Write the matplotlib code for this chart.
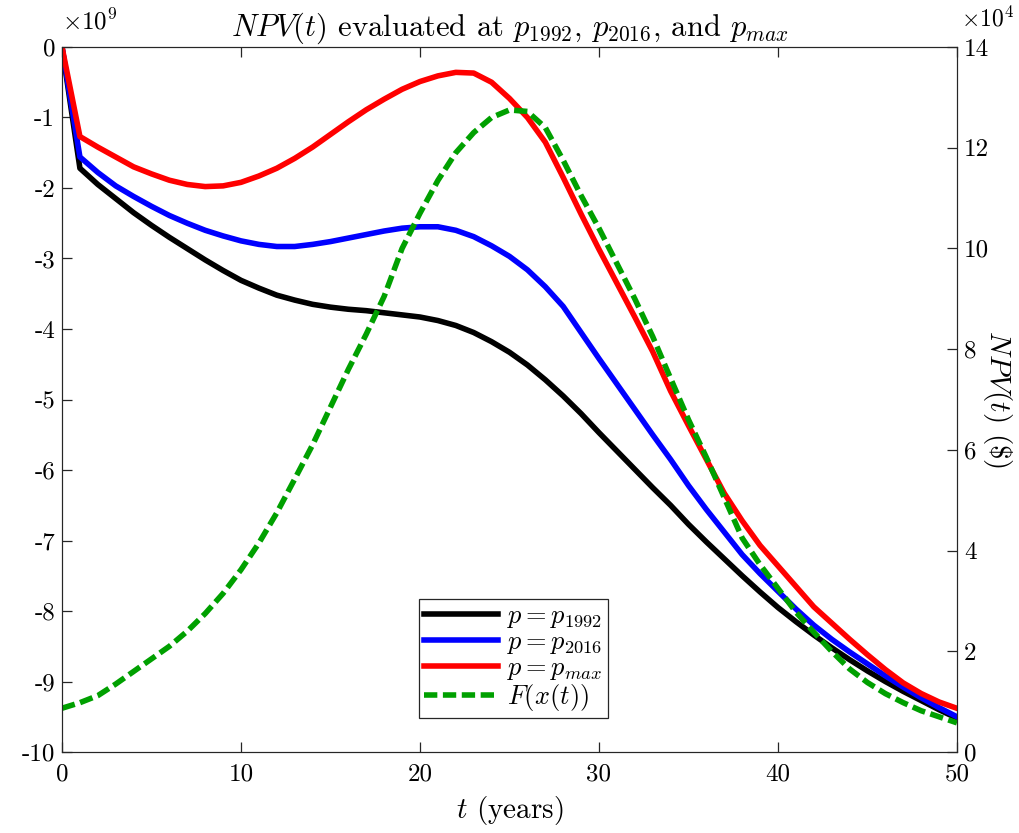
import matplotlib
matplotlib.use('Agg')
import matplotlib.pyplot as plt

plt.rcParams['font.family'] = 'cmr10'
plt.rcParams['mathtext.fontset'] = 'cm'
plt.rcParams['axes.unicode_minus'] = False
plt.rcParams['axes.formatter.use_mathtext'] = False

# time grid (years)
t = list(range(0, 51))

# NPV(t), units of 1e9 $
npv_1992 = [0, -1.72, -1.95, -2.15, -2.35, -2.53, -2.70, -2.86, -3.02, -3.17,
            -3.31, -3.42, -3.52, -3.59, -3.65, -3.69, -3.72, -3.74, -3.77, -3.80,
            -3.83, -3.88, -3.95, -4.05, -4.18, -4.33, -4.51, -4.72, -4.95, -5.20,
            -5.47, -5.73, -5.99, -6.25, -6.50, -6.77, -7.02, -7.26, -7.50, -7.73,
            -7.95, -8.15, -8.34, -8.52, -8.69, -8.85, -9.00, -9.14, -9.27, -9.40,
            -9.52]
npv_2016 = [0, -1.56, -1.78, -1.97, -2.12, -2.26, -2.39, -2.50, -2.60, -2.68,
            -2.75, -2.80, -2.83, -2.83, -2.80, -2.76, -2.71, -2.66, -2.61, -2.57,
            -2.55, -2.55, -2.60, -2.69, -2.82, -2.97, -3.16, -3.40, -3.68, -4.05,
            -4.42, -4.78, -5.14, -5.50, -5.85, -6.22, -6.56, -6.88, -7.20, -7.47,
            -7.72, -7.97, -8.20, -8.40, -8.58, -8.75, -8.92, -9.08, -9.23, -9.37,
            -9.50]
npv_max = [0, -1.27, -1.42, -1.56, -1.70, -1.80, -1.89, -1.95, -1.98, -1.97,
           -1.92, -1.83, -1.72, -1.58, -1.42, -1.24, -1.06, -0.89, -0.74, -0.60,
           -0.49, -0.41, -0.36, -0.37, -0.50, -0.73, -1.00, -1.35, -1.85, -2.37,
           -2.87, -3.35, -3.83, -4.32, -4.88, -5.37, -5.85, -6.33, -6.72, -7.07,
           -7.36, -7.65, -7.94, -8.17, -8.40, -8.62, -8.83, -9.02, -9.17, -9.29,
           -9.38]

# F(x(t)), units of 1e4
f_xt = [0.87, 0.98, 1.12, 1.35, 1.60, 1.85, 2.10, 2.40, 2.75, 3.15,
        3.62, 4.15, 4.75, 5.42, 6.10, 6.85, 7.60, 8.30, 9.05, 10.00,
        10.70, 11.35, 11.90, 12.30, 12.60, 12.75, 12.72, 12.40, 11.75, 11.05,
        10.40, 9.70, 9.00, 8.25, 7.42, 6.60, 5.85, 5.05, 4.25, 3.72,
        3.25, 2.78, 2.38, 2.00, 1.65, 1.38, 1.16, 0.98, 0.82, 0.70,
        0.58]

fig = plt.figure(figsize=(10.2, 8.33), dpi=100)
ax = fig.add_axes([0.0608, 0.0972, 0.8774, 0.8464])
ax2 = ax.twinx()

edge = '#262626'
l1, = ax.plot(t, npv_1992, color='k', lw=4, label=r'$p = p_{1992}$')
l2, = ax.plot(t, npv_2016, color='#0000ff', lw=4, label=r'$p = p_{2016}$')
l3, = ax.plot(t, npv_max, color='#ff0000', lw=4, label=r'$p = p_{max}$')
l4, = ax2.plot(t, f_xt, color='#00a000', lw=4, dashes=(2.4, 1.0),
               label=r'$F(x(t))$')

ax.set_xlim(0, 50)
ax.set_ylim(-10, 0)
ax.set_yticks(range(-10, 1))
ax.set_xticks(range(0, 51, 10))
ax2.set_ylim(0, 14)
ax2.set_yticks(range(0, 15, 2))

for a in (ax, ax2):
    for s in a.spines.values():
        s.set_color(edge)
    a.tick_params(direction='in', length=7, colors=edge, labelcolor='k',
                  labelsize=18, width=0.9)
ax.tick_params(axis='x', top=True, pad=8)
ax.tick_params(axis='y', pad=5)
ax2.tick_params(axis='y', pad=5)

ax.text(0, 1.018, r'$\times10^9$', transform=ax.transAxes, fontsize=18,
        ha='left', va='bottom')
ax2.text(1.004, 1.022, r'$\times10^4$', transform=ax.transAxes, fontsize=17,
         ha='left', va='bottom')

ax.set_title(r'$NPV(t)$ evaluated at $p_{1992}$, $p_{2016}$, and $p_{max}$',
             fontsize=22, pad=8)
ax.set_xlabel(r'$t$ (years)', fontsize=21, labelpad=6)
ax2.set_ylabel(r'$NPV(t)$ (\$)', fontsize=21, rotation=270, labelpad=18)

leg = ax.legend(handles=[l1, l2, l3, l4], loc='lower center',
                bbox_to_anchor=(0.504, 0.048), fontsize=19, fancybox=False,
                framealpha=1, edgecolor=edge, handlelength=2.8,
                borderpad=0.2, labelspacing=0.0, handletextpad=0.35,
                borderaxespad=0)
leg.get_frame().set_linewidth(0.9)

fig.savefig('out.png', dpi=100)
